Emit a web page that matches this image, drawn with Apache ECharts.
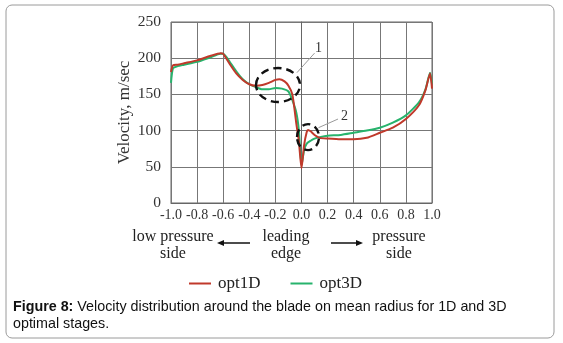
<!DOCTYPE html>
<html>
<head>
<meta charset="utf-8">
<script src="https://cdn.jsdelivr.net/npm/echarts@6/dist/echarts.min.js"></script>
<style>
  html, body { margin: 0; padding: 0; background: #fff; }
</style>
</head>
<body>
<div id="myChart" style="width:563px;height:343px;"></div>
<script>
  // data: [position along blade, velocity m/sec]
  var opt1D = [
    [-1.0, 181], [-0.985, 190], [-0.95, 191], [-0.9, 193], [-0.8, 197], [-0.7, 203],
    [-0.62, 207], [-0.6, 206], [-0.55, 192], [-0.5, 179], [-0.45, 170], [-0.4, 164],
    [-0.35, 162], [-0.3, 163], [-0.25, 166], [-0.2, 170], [-0.17, 171], [-0.13, 168],
    [-0.1, 162], [-0.07, 150], [-0.04, 110], [-0.02, 85], [0.0, 48], [0.02, 80],
    [0.04, 98], [0.05, 101], [0.07, 99], [0.1, 94], [0.14, 90], [0.2, 89], [0.3, 88],
    [0.4, 88], [0.5, 90], [0.6, 97], [0.7, 104], [0.8, 116], [0.9, 135], [0.95, 156],
    [0.985, 179], [1.0, 158]
  ];
  var opt3D = [
    [-1.0, 166], [-0.985, 186], [-0.95, 189], [-0.9, 191], [-0.8, 195], [-0.7, 201],
    [-0.62, 206], [-0.6, 206], [-0.55, 195], [-0.5, 182], [-0.45, 171], [-0.4, 164],
    [-0.35, 160], [-0.3, 157], [-0.25, 157], [-0.2, 159], [-0.15, 158], [-0.1, 154],
    [-0.07, 142], [-0.04, 125], [-0.02, 100], [0.0, 52], [0.02, 73], [0.04, 82],
    [0.07, 86], [0.1, 89], [0.14, 91], [0.2, 93], [0.3, 94], [0.4, 97], [0.5, 100],
    [0.6, 104], [0.7, 111], [0.8, 121], [0.9, 139], [0.95, 157], [0.985, 180], [1.0, 165]
  ];
  var seriesNames = ['opt1D', 'opt3D'];
  var seriesColors = ['#c0392b', '#27b36c'];

  var serif = 'Liberation Serif, Times New Roman, serif';
  var sans = 'Liberation Sans, Arial, sans-serif';

  var myChart = echarts.init(document.getElementById('myChart'));

  var option = {
    animation: false,
    grid: { left: 171, right: 131, top: 22, bottom: 140, show: true, borderColor: '#666', borderWidth: 1 },
    legend: {
      left: 184, top: 270,
      itemWidth: 22, itemHeight: 2, itemGap: 30,
      icon: 'rect',
      data: seriesNames,
      textStyle: { fontFamily: serif, fontSize: 17, color: '#222', padding: [0, 0, 0, 2] }
    },
    xAxis: {
      type: 'value', min: -1, max: 1, interval: 0.2,
      axisLine: { lineStyle: { color: '#666' } },
      axisTick: { show: false },
      splitLine: { lineStyle: { color: '#777', width: 1 } },
      axisLabel: {
        fontFamily: serif, fontSize: 14, color: '#333', margin: 5,
        formatter: function (v) { return v.toFixed(1); }
      }
    },
    yAxis: {
      type: 'value', min: 0, max: 250, interval: 50,
      name: 'Velocity, m/sec', nameLocation: 'middle', nameGap: 38,
      nameTextStyle: { fontFamily: serif, fontSize: 17, color: '#333' },
      axisLine: { show: true, lineStyle: { color: '#666' } },
      axisTick: { show: false },
      splitLine: { lineStyle: { color: '#777', width: 1 } },
      axisLabel: { fontFamily: serif, fontSize: 15.5, color: '#333', margin: 10 }
    },
    series: [
      {
        name: seriesNames[0], type: 'line', data: opt1D, smooth: 0.2,
        showSymbol: false, color: seriesColors[0], lineStyle: { width: 2 }, z: 3
      },
      {
        name: seriesNames[1], type: 'line', data: opt3D, smooth: 0.2,
        showSymbol: false, color: seriesColors[1], lineStyle: { width: 2 }, z: 2
      }
    ]
  };
  myChart.setOption(option);

  // annotations placed in data coordinates
  function px(p) { return myChart.convertToPixel({ gridIndex: 0 }, p); }
  var c1 = px([-0.18, 163]), c2 = px([0.05, 91]);
  var l1a = px([-0.035, 180]), l1b = px([0.1, 207]), t1 = px([0.13, 213]);
  var l2a = px([0.13, 104]), l2b = px([0.28, 116]), t2 = px([0.33, 120]);

  var dash = { stroke: '#111', lineWidth: 2.4, lineDash: [8, 5], fill: null };
  var arrowStyle = { stroke: '#111', lineWidth: 1.5 };

  myChart.setOption({
    graphic: [
      { type: 'rect', shape: { x: 6, y: 5, width: 548, height: 333, r: 6 },
        style: { fill: null, stroke: '#9a9a9a', lineWidth: 1 }, z: -1 },
      { type: 'ellipse', shape: { cx: c1[0], cy: c1[1], rx: 22, ry: 17 }, style: dash, z: 10 },
      { type: 'ellipse', shape: { cx: c2[0], cy: c2[1], rx: 11, ry: 13 }, style: dash, z: 10 },
      { type: 'line', shape: { x1: l1a[0], y1: l1a[1], x2: l1b[0], y2: l1b[1] },
        style: { stroke: '#999', lineWidth: 1 }, z: 10 },
      { type: 'line', shape: { x1: l2a[0], y1: l2a[1], x2: l2b[0], y2: l2b[1] },
        style: { stroke: '#999', lineWidth: 1 }, z: 10 },
      { type: 'text', x: t1[0], y: t1[1], z: 10,
        style: { text: '1', font: '14px ' + serif, fill: '#333', align: 'center', verticalAlign: 'middle' } },
      { type: 'text', x: t2[0], y: t2[1], z: 10,
        style: { text: '2', font: '14px ' + serif, fill: '#333', align: 'center', verticalAlign: 'middle' } },

      { type: 'text', x: 173, y: 228,
        style: { text: 'low pressure\nside', font: '16px ' + serif, fill: '#222', align: 'center', lineHeight: 17 } },
      { type: 'text', x: 286, y: 228,
        style: { text: 'leading\nedge', font: '16px ' + serif, fill: '#222', align: 'center', lineHeight: 17 } },
      { type: 'text', x: 399, y: 228,
        style: { text: 'pressure\nside', font: '16px ' + serif, fill: '#222', align: 'center', lineHeight: 17 } },
      { type: 'line', shape: { x1: 222, y1: 243, x2: 250, y2: 243 }, style: arrowStyle },
      { type: 'polygon', shape: { points: [[217, 243], [224, 240], [224, 246]] }, style: { fill: '#111' } },
      { type: 'line', shape: { x1: 331, y1: 243, x2: 358, y2: 243 }, style: arrowStyle },
      { type: 'polygon', shape: { points: [[363, 243], [356, 240], [356, 246]] }, style: { fill: '#111' } },

      { type: 'text', x: 13, y: 299,
        style: {
          text: '{b|Figure 8:} Velocity distribution around the blade on mean radius for 1D and 3D\noptimal stages.',
          font: '14.3px ' + sans, fill: '#111', lineHeight: 17,
          rich: { b: { fontFamily: sans, fontSize: 14.3, fontWeight: 'bold', fill: '#111' } }
        } }
    ]
  });
</script>
</body>
</html>
